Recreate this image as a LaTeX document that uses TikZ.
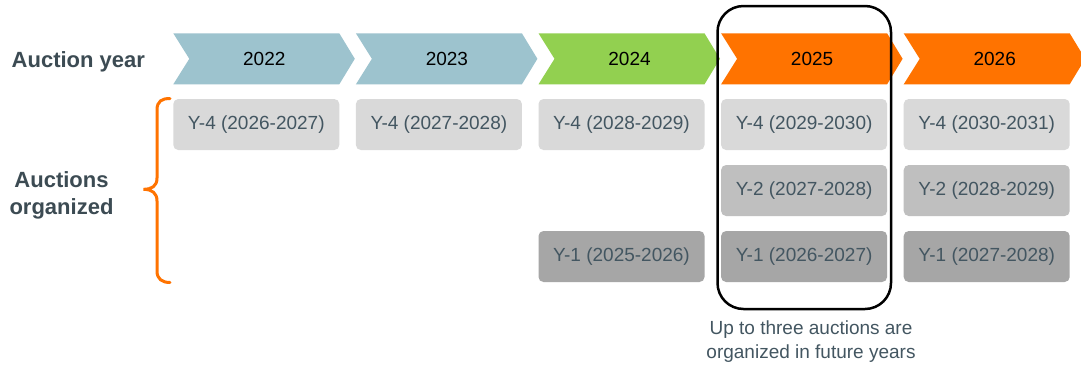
\documentclass[tikz,border=0pt]{standalone}
\usepackage{fontspec}
\setmainfont{Liberation Sans}
\definecolor{chevblue}{HTML}{9DC3CE}
\definecolor{chevgreen}{HTML}{92D050}
\definecolor{chevorange}{HTML}{FF7300}
\definecolor{rowa}{HTML}{D9D9D9}
\definecolor{rowb}{HTML}{BFBFBF}
\definecolor{rowc}{HTML}{A6A6A6}
\definecolor{slate}{HTML}{435661}
\definecolor{labelc}{HTML}{3C4B53}
\tikzset{
  chevtext/.style={text=black, inner sep=0pt, font=\fontsize{19}{22}\selectfont},
  boxtext/.style={text=slate, inner sep=0pt, font=\fontsize{19}{22}\selectfont},
  sidelabel/.style={text=labelc, inner sep=0pt, font=\fontsize{22}{27}\selectfont\bfseries, align=center},
  caption/.style={text=slate, inner sep=0pt, font=\fontsize{19}{24}\selectfont, align=center},
  focusframe/.style={draw=black, line width=2.5pt, rounded corners=26pt},
  bracestyle/.style={draw=chevorange, line width=3pt, line cap=round}
}
\begin{document}
\begin{tikzpicture}[x=1pt,y=-1pt]
\clip (0,0) rectangle (1081,365);
\fill[white] (0,0) rectangle (1081,365);
% chevrons
\foreach \i/\yr/\col in {0/2022/chevblue,1/2023/chevblue,2/2024/chevgreen,3/2025/chevorange,4/2026/chevorange}{
  \pgfmathsetmacro{\L}{173.3+182.6*\i}
  \fill[\col] (\L,33.3) -- ({\L+166},33.3) -- ({\L+181.5},58.8) -- ({\L+166},84.3) -- (\L,84.3) -- ({\L+16},58.8) -- cycle;
  \node[chevtext] (y\yr) at ({\L+91},58.8) {\yr};
}
% auction boxes
\newcommand{\auctbox}[5]{% col, row, fill, text, name
  \pgfmathsetmacro{\L}{173.3+182.6*#1}
  \pgfmathsetmacro{\T}{99+66*#2}
  \fill[#3, rounded corners=5pt] (\L,\T) rectangle ({\L+166},{\T+51});
  \node[boxtext] (#5) at ({\L+83},{\T+25.5}) {#4};
}
\auctbox{0}{0}{rowa}{Y-4 (2026-2027)}{a22}
\auctbox{1}{0}{rowa}{Y-4 (2027-2028)}{a23}
\auctbox{2}{0}{rowa}{Y-4 (2028-2029)}{a24}
\auctbox{3}{0}{rowa}{Y-4 (2029-2030)}{a25}
\auctbox{4}{0}{rowa}{Y-4 (2030-2031)}{a26}
\auctbox{3}{1}{rowb}{Y-2 (2027-2028)}{b25}
\auctbox{4}{1}{rowb}{Y-2 (2028-2029)}{b26}
\auctbox{2}{2}{rowc}{Y-1 (2025-2026)}{c24}
\auctbox{3}{2}{rowc}{Y-1 (2026-2027)}{c25}
\auctbox{4}{2}{rowc}{Y-1 (2027-2028)}{c26}
% left labels
\node[sidelabel, anchor=base west] (auctyear) at (11.5,67) {Auction year};
\node[sidelabel] (auctorg) at (61.5,195) {Auctions\\organized};
% brace
\draw[bracestyle] (170,98.5) .. controls (162,98.5) and (157,101) .. (157,110) -- (157,178)
  .. controls (157,186) and (152,189.3) .. (143.5,189.3)
  .. controls (152,189.3) and (157,193) .. (157,201) -- (157,271)
  .. controls (157,279) and (162,282.5) .. (170,282.5);
% focus frame
\draw[focusframe] (717.5,6) rectangle (891,309);
% caption
\node[caption] (note) at (811,342) {Up to three auctions are\\organized in future years};
\end{tikzpicture}
\end{document}
